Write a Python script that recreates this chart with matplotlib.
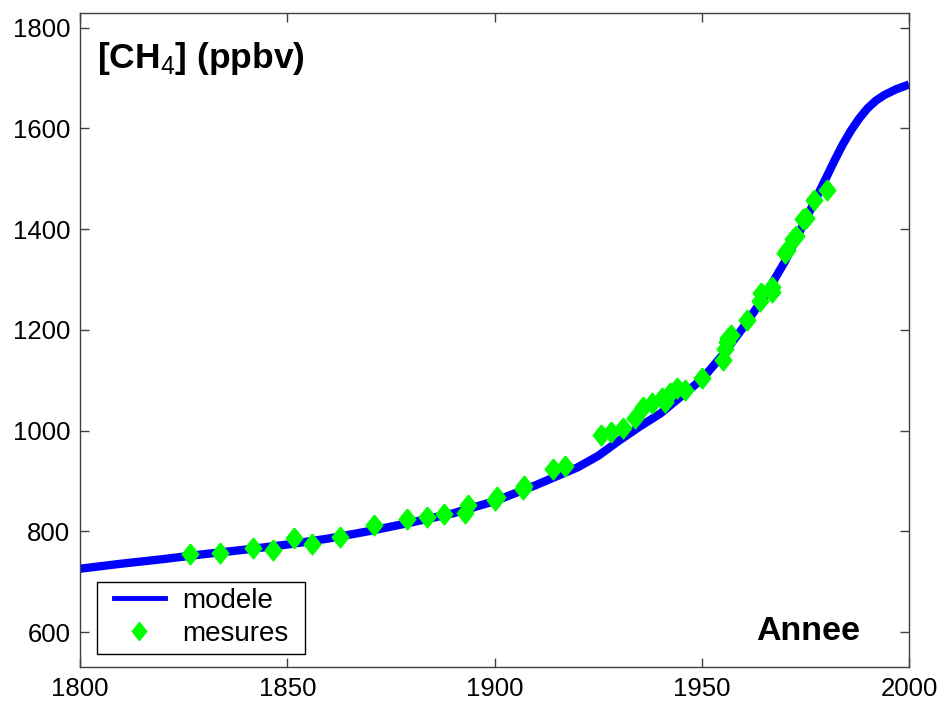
import matplotlib
matplotlib.use("Agg")
import matplotlib.pyplot as plt
from matplotlib.lines import Line2D
from matplotlib.patches import Rectangle

plt.rcParams["font.family"] = ["Liberation Sans", "DejaVu Sans"]
plt.rcParams["mathtext.fontset"] = "custom"
plt.rcParams["mathtext.rm"] = "Liberation Sans"
plt.rcParams["mathtext.bf"] = "Liberation Sans:bold"

# model curve
model_year = [1800, 1810, 1820, 1830, 1840, 1850, 1860, 1870, 1880, 1890,
              1900, 1910, 1920, 1925, 1930, 1935, 1940, 1945, 1950, 1955,
              1960, 1965, 1970, 1975, 1980, 1982, 1984, 1986, 1988, 1990,
              1992, 1994, 1997, 2000]
model_ch4 = [726, 736, 745, 755, 764, 774, 786, 801, 818, 836,
             860, 892, 927, 950, 980, 1008, 1034, 1068, 1102, 1150,
             1205, 1265, 1335, 1418, 1502, 1536, 1568, 1596, 1620, 1640,
             1655, 1666, 1678, 1687]

# ice-core / atmospheric measurements
meas_year = [1826.5, 1833.8, 1841.8, 1846.6, 1851.6, 1856.0, 1862.7, 1871.0,
             1878.9, 1883.7, 1887.8, 1892.9, 1893.6, 1900.1, 1900.6, 1906.8,
             1907.0, 1914.0, 1917.0, 1925.6, 1928.0, 1931.0, 1933.9, 1935.8,
             1937.9, 1940.3, 1941.1, 1942.3, 1943.9, 1946.0, 1950.0, 1955.0,
             1955.6, 1956.0, 1956.3, 1957.0, 1960.8, 1964.0, 1964.2, 1966.9,
             1967.0, 1970.0, 1970.6, 1972.0, 1972.6, 1974.5, 1975.2, 1977.0,
             1980.1]
meas_ch4 = [756, 757, 767, 763, 786, 776, 789, 812,
            824, 828, 834, 836, 852, 862, 868, 884,
            890, 923, 929, 991, 997, 1005, 1025, 1046,
            1054, 1064, 1056, 1074, 1084, 1080, 1104, 1140,
            1163, 1175, 1183, 1190, 1219, 1258, 1273, 1275,
            1285, 1352, 1358, 1380, 1386, 1420, 1422, 1458,
            1478]

diamond = [(0, 1), (0.8, 0), (0, -1), (-0.8, 0), (0, 1)]

fig = plt.figure(figsize=(9.45, 7.04), dpi=100)
ax = fig.add_axes([0.0847, 0.0526, 0.8773, 0.929])

ax.plot(model_year, model_ch4, color="#0000ff", lw=6, solid_capstyle="butt",
        solid_joinstyle="round", label="modele", zorder=2)
ax.plot(meas_year, meas_ch4, ls="none", marker=diamond, ms=15,
        color="#00ff00", mec="#00ff00", label="mesures", zorder=3)

ax.set_xlim(1800, 2000)
ax.set_ylim(531, 1829)
ax.set_xticks([1800, 1850, 1900, 1950, 2000])
ax.set_yticks([600, 800, 1000, 1200, 1400, 1600, 1800])
ax.tick_params(direction="in", length=6.5, width=1, labelsize=18.5,
               top=True, right=True, color="#404040", pad=7)
for s in ax.spines.values():
    s.set_color("#404040")
    s.set_linewidth(1)

ax.text(0.0205, 0.916, r"[CH$_{4}$] (ppbv)", transform=ax.transAxes,
        fontsize=25.5, fontweight="bold", ha="left", va="baseline")
ax.text(0.941, 0.041, "Annee", transform=ax.transAxes,
        fontsize=24.5, fontweight="bold", ha="right", va="baseline")

# legend: MATLAB-style box with wider side margins than matplotlib's default
handles = [Line2D([], [], color="#0000ff", lw=3.5),
           Line2D([], [], ls="none", marker=diamond, ms=13, color="#00ff00")]
leg = ax.legend(handles, ["modele", "mesures"], loc="lower left",
                bbox_to_anchor=(0.0326, 0.02), borderaxespad=0, fontsize=20,
                frameon=False, handlelength=1.83, handletextpad=0.61,
                labelspacing=0.25, borderpad=0.25)
ax.add_patch(Rectangle((0.0205, 0.0194), 0.251, 0.111, transform=ax.transAxes,
                       facecolor="white", edgecolor="black", lw=1, zorder=4))
leg.set_zorder(5)

fig.savefig("out.png", dpi=100)
